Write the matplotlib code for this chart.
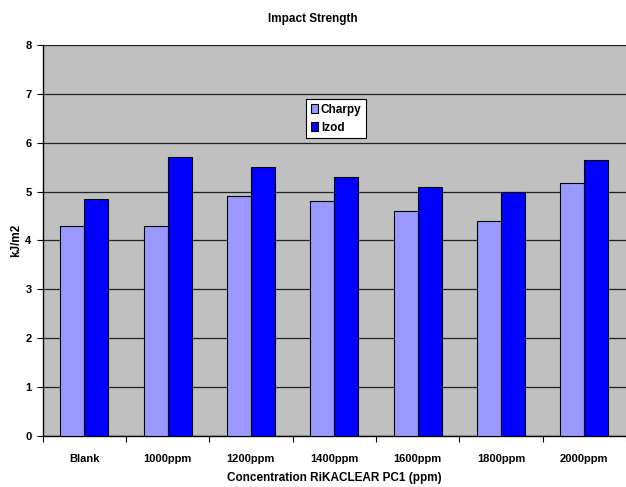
import matplotlib
matplotlib.use("Agg")
import matplotlib.pyplot as plt
import numpy as np

categories = ["Blank", "1000ppm", "1200ppm", "1400ppm", "1600ppm", "1800ppm", "2000ppm"]
charpy = [4.3, 4.3, 4.9, 4.8, 4.6, 4.4, 5.17]
izod = [4.84, 5.7, 5.5, 5.3, 5.1, 5.0, 5.65]
y_ticks = [0, 1, 2, 3, 4, 5, 6, 7, 8]

plt.rcParams["font.family"] = ["Liberation Sans", "DejaVu Sans"]
plt.rcParams["font.weight"] = "bold"

fig = plt.figure(figsize=(6.26, 4.87), dpi=100)
ax = fig.add_axes([0.068, 0.1047, 0.932, 0.803])
ax.set_facecolor("#C0C0C0")

x = np.arange(len(categories))
w = 0.287
ax.bar(x - w / 2, charpy, w, color="#9999FF", edgecolor="black", linewidth=0.8,
       label="Charpy", zorder=3)
ax.bar(x + w / 2, izod, w, color="#0000FF", edgecolor="black", linewidth=0.8,
       label="Izod", zorder=3)

ax.set_xlim(-0.5, len(categories) - 0.5)
ax.set_ylim(0, 8)
ax.set_yticks(y_ticks)
ax.set_yticklabels([str(t) for t in y_ticks], fontsize=8, fontweight="bold")
ax.yaxis.grid(True, color="#222222", linewidth=0.9, zorder=1)
ax.set_axisbelow(True)

# category labels centred, tick marks between categories
ax.set_xticks(x)
ax.set_xticklabels(categories, fontsize=8, fontweight="bold")
ax.tick_params(axis="x", length=0, pad=13)
ax.set_xticks(np.arange(len(categories) + 1) - 0.5, minor=True)
ax.tick_params(axis="x", which="minor", length=4, width=0.8, direction="out")
ax.tick_params(axis="y", length=4, width=0.8, direction="out", pad=4)

for side in ("top", "right"):
    ax.spines[side].set_visible(False)
for side in ("left", "bottom"):
    ax.spines[side].set_linewidth(1.0)
    ax.spines[side].set_color("black")

ax.set_xlabel("Concentration RiKACLEAR PC1 (ppm)", fontsize=8.5, fontweight="bold", labelpad=6)
ax.set_ylabel("kJ/m2", fontsize=8.5, fontweight="bold", labelpad=2)
fig.text(0.5, 0.962, "Impact Strength", ha="center", va="center", fontsize=8.5, fontweight="bold")

leg = ax.legend(loc="upper left", bbox_to_anchor=(306 / 626, 1 - 99 / 487),
                bbox_transform=fig.transFigure, fontsize=8.5, frameon=True, fancybox=False,
                edgecolor="black", framealpha=1, handlelength=0.65, handleheight=0.7,
                handletextpad=0.2, borderpad=0.4, labelspacing=0.5, borderaxespad=0)
leg.get_frame().set_linewidth(0.8)
for t in leg.get_texts():
    t.set_fontweight("bold")

fig.savefig("out.png", dpi=100)
